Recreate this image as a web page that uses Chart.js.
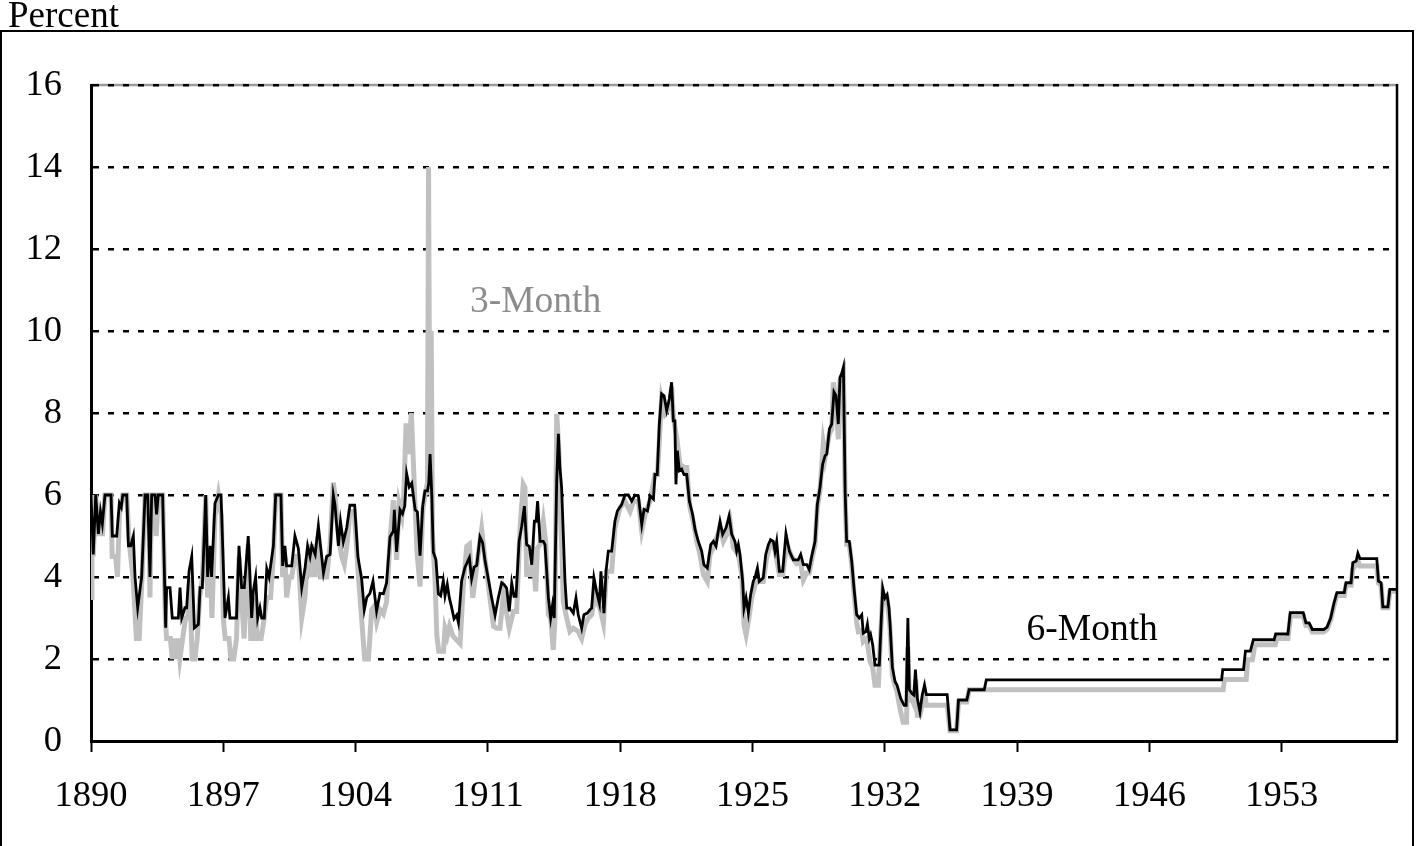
<!DOCTYPE html>
<html>
<head>
<meta charset="utf-8">
<script src="https://cdn.jsdelivr.net/npm/chart.js@4.4.1/dist/chart.umd.min.js"></script>
<style>
  html, body { margin: 0; padding: 0; background: #ffffff; }
  #wrap { position: relative; width: 1416px; height: 846px; }
</style>
</head>
<body>
<div id="wrap"><canvas id="c" width="1416" height="846"></canvas></div>
<script>
// ---------- data ----------
const xTickYears = [1890, 1897, 1904, 1911, 1918, 1925, 1932, 1939, 1946, 1953];
const yTickValues = [0, 2, 4, 6, 8, 10, 12, 14, 16];
const axisTitle = "Percent";
const seriesNames = ["3-Month", "6-Month"];

const sixMonthYears = [
1890.00,1890.12,1890.25,1890.39,1890.50,1890.60,1890.74,1891.06,1891.13,1891.36,1891.50,1891.60,1891.68,1891.89,1891.98,
1892.10,1892.24,1892.33,1892.47,1892.68,1892.86,1893.00,1893.12,1893.21,1893.39,1893.47,1893.56,1893.79,1893.95,1894.00,
1894.18,1894.30,1894.62,1894.71,1894.80,1894.97,1895.06,1895.19,1895.33,1895.47,1895.68,1895.77,1895.89,1896.07,1896.17,
1896.30,1896.38,1896.56,1896.74,1896.88,1897.09,1897.27,1897.35,1897.70,1897.83,1897.97,1898.11,1898.32,1898.50,1898.59,
1898.71,1898.82,1898.94,1899.03,1899.17,1899.30,1899.42,1899.65,1899.77,1900.05,1900.14,1900.26,1900.35,1900.62,1900.79,
1900.97,1901.15,1901.32,1901.46,1901.59,1901.68,1901.86,1902.03,1902.30,1902.47,1902.65,1902.82,1902.91,1903.09,1903.20,
1903.35,1903.53,1903.70,1903.95,1904.12,1904.32,1904.46,1904.59,1904.76,1904.92,1905.11,1905.29,1905.47,1905.64,1905.82,
1906.00,1906.05,1906.17,1906.35,1906.48,1906.60,1906.70,1906.84,1906.97,1907.15,1907.27,1907.41,1907.55,1907.67,1907.80,
1907.87,1907.94,1908.03,1908.11,1908.25,1908.38,1908.50,1908.64,1908.73,1908.85,1908.96,1909.08,1909.21,1909.35,1909.44,
1909.61,1909.79,1910.02,1910.14,1910.27,1910.41,1910.58,1910.72,1910.84,1911.02,1911.20,1911.38,1911.55,1911.73,1911.85,
1911.99,1912.13,1912.26,1912.38,1912.49,1912.65,1912.79,1912.93,1913.05,1913.19,1913.32,1913.46,1913.55,1913.63,1913.76,
1913.93,1914.02,1914.20,1914.32,1914.42,1914.51,1914.64,1914.73,1914.81,1914.90,1915.08,1915.17,1915.34,1915.52,1915.66,
1915.78,1915.96,1916.08,1916.26,1916.40,1916.49,1916.61,1916.75,1916.90,1916.98,1917.14,1917.25,1917.37,1917.55,1917.72,
1917.85,1918.08,1918.25,1918.43,1918.61,1918.78,1918.96,1919.14,1919.26,1919.44,1919.58,1919.76,1919.84,1919.96,1920.07,
1920.19,1920.32,1920.46,1920.60,1920.72,1920.81,1920.89,1920.95,1921.02,1921.13,1921.25,1921.38,1921.52,1921.66,1921.83,
1921.96,1922.13,1922.31,1922.43,1922.61,1922.79,1922.93,1923.07,1923.19,1923.28,1923.42,1923.60,1923.76,1923.90,1924.07,
1924.16,1924.25,1924.34,1924.48,1924.55,1924.66,1924.78,1924.90,1925.04,1925.13,1925.26,1925.36,1925.57,1925.70,1925.84,
1925.96,1926.10,1926.19,1926.28,1926.42,1926.60,1926.77,1926.95,1927.16,1927.42,1927.55,1927.69,1927.87,1928.00,1928.13,
1928.31,1928.43,1928.57,1928.71,1928.84,1928.93,1929.07,1929.19,1929.31,1929.42,1929.54,1929.63,1929.72,1929.81,1929.90,
1929.98,1930.12,1930.25,1930.37,1930.51,1930.65,1930.78,1930.86,1931.00,1931.08,1931.18,1931.25,1931.36,1931.48,1931.71,
1931.80,1931.89,1932.01,1932.12,1932.22,1932.27,1932.40,1932.54,1932.65,1932.84,1933.02,1933.13,1933.22,1933.30,1933.45,
1933.54,1933.62,1933.72,1933.86,1933.98,1934.10,1934.20,1935.30,1935.45,1935.80,1935.90,1936.34,1936.46,1937.26,1937.37,
1949.82,1949.88,1950.98,1951.08,1951.34,1951.50,1952.60,1952.68,1953.33,1953.45,1954.14,1954.28,1954.45,1954.62,1955.22,
1955.40,1955.59,1955.77,1955.92,1956.31,1956.40,1956.67,1956.76,1956.94,1957.03,1957.14,1958.03,1958.12,1958.26,1958.35,
1958.62,1958.72,1959.05];
const sixMonthRates = [
6.0,4.55,6.0,5.05,5.6,5.3,6.0,6.0,5.0,5.0,5.8,5.7,6.0,6.0,4.76,
4.76,5.0,4.0,3.25,4.0,6.0,6.0,4.0,6.0,6.0,5.53,6.0,6.0,2.76,3.74,
3.74,3.0,3.0,3.74,3.0,3.25,3.25,4.15,4.5,2.76,2.84,3.74,3.74,6.0,4.0,
4.76,4.0,5.8,6.0,6.0,3.0,3.5,3.0,3.0,4.76,3.74,3.74,5.0,3.0,3.66,
4.0,3.0,3.25,3.0,3.0,4.2,4.0,4.76,6.0,6.0,4.27,4.76,4.27,4.27,5.0,
4.7,3.74,4.2,4.76,4.5,4.76,4.55,5.25,4.1,4.5,4.55,6.0,5.75,4.76,5.36,
4.85,5.2,5.75,5.75,4.5,3.95,3.2,3.5,3.6,3.9,3.17,3.6,3.59,3.86,4.98,
5.12,5.64,4.61,5.64,5.54,5.73,6.52,6.2,6.29,5.64,5.59,4.52,5.73,6.1,6.1,
6.29,7.0,6.0,4.61,4.42,3.59,3.54,3.91,3.54,3.82,3.49,3.26,2.98,3.07,2.89,
3.91,4.24,4.47,3.96,4.24,4.28,4.98,4.84,4.42,3.96,3.49,3.07,3.49,3.86,3.82,
3.73,3.16,3.85,3.53,3.53,4.87,5.24,5.73,4.79,4.75,4.3,5.36,5.36,5.85,4.87,
4.87,4.79,3.49,3.0,3.32,3.0,6.34,7.49,6.67,6.18,3.89,3.24,3.24,3.12,3.49,
3.08,2.75,3.08,3.12,3.2,3.24,3.98,3.65,3.36,4.14,3.12,4.14,4.63,4.63,5.36,
5.61,5.77,6.0,6.0,5.85,6.0,5.98,5.28,5.65,5.61,5.98,5.9,6.5,6.5,7.73,
8.47,8.42,8.06,8.34,8.75,7.81,7.81,6.26,7.08,6.59,6.63,6.5,6.5,5.85,5.53,
5.16,4.87,4.63,4.3,4.22,4.79,4.87,4.75,5.12,5.36,5.04,5.2,5.49,5.04,4.87,
4.63,4.79,4.55,3.89,3.24,3.49,3.12,3.57,3.89,3.98,4.22,3.89,3.98,4.55,4.79,
4.91,4.87,4.63,4.87,4.14,4.14,5.06,4.63,4.42,4.42,4.55,4.3,4.3,4.18,4.5,
4.87,5.77,6.18,6.75,6.96,7.0,7.61,7.73,8.51,8.42,7.73,8.87,8.96,9.12,6.1,
4.87,4.87,4.38,3.73,3.08,3.0,3.08,2.63,2.67,2.85,2.5,2.59,2.34,1.85,1.85,
2.83,3.73,3.49,3.57,3.25,2.91,1.8,1.45,1.36,1.04,0.87,0.87,3.0,1.25,1.15,
1.12,1.74,1.04,0.71,1.12,1.36,1.13,1.13,0.27,0.27,1.0,1.0,1.25,1.25,1.49,
1.49,1.74,1.74,2.19,2.19,2.47,2.47,2.61,2.61,3.13,3.13,2.88,2.88,2.72,2.72,
2.78,3.0,3.37,3.62,3.62,3.86,3.86,4.35,4.39,4.58,4.45,4.45,3.9,3.86,3.27,
3.27,3.7,3.7];

const threeMonthYears = [
1890.00,1890.05,1890.12,1890.25,1890.39,1890.50,1890.60,1890.74,1891.06,1891.12,1891.30,1891.40,1891.50,1891.68,1891.89,
1892.00,1892.10,1892.22,1892.32,1892.40,1892.55,1892.70,1892.86,1893.05,1893.12,1893.20,1893.38,1893.45,1893.56,1893.79,
1893.93,1894.00,1894.20,1894.30,1894.40,1894.50,1894.60,1894.70,1894.85,1895.00,1895.12,1895.22,1895.35,1895.50,1895.62,
1895.75,1895.90,1896.07,1896.17,1896.30,1896.40,1896.56,1896.74,1896.90,1897.00,1897.10,1897.30,1897.40,1897.55,1897.70,
1897.83,1897.97,1898.10,1898.32,1898.45,1898.60,1898.70,1898.80,1899.00,1899.17,1899.30,1899.50,1899.65,1899.77,1900.05,
1900.14,1900.26,1900.35,1900.50,1900.62,1900.79,1900.97,1901.15,1901.32,1901.46,1901.59,1901.68,1901.86,1902.00,1902.15,
1902.30,1902.47,1902.65,1902.82,1902.91,1903.09,1903.26,1903.40,1903.55,1903.70,1903.93,1904.12,1904.30,1904.48,1904.68,
1904.85,1905.00,1905.12,1905.30,1905.47,1905.64,1905.82,1906.00,1906.17,1906.30,1906.45,1906.55,1906.67,1906.80,1906.95,
1907.10,1907.25,1907.41,1907.55,1907.67,1907.80,1907.86,1907.93,1908.00,1908.07,1908.20,1908.30,1908.40,1908.65,1908.73,
1908.85,1908.97,1909.15,1909.53,1909.70,1909.88,1910.02,1910.20,1910.40,1910.67,1910.85,1911.11,1911.30,1911.47,1911.64,
1911.82,1912.13,1912.35,1912.52,1912.70,1912.87,1912.96,1913.05,1913.23,1913.40,1913.53,1913.62,1913.76,1913.93,1914.07,
1914.20,1914.32,1914.46,1914.55,1914.64,1914.73,1914.81,1914.99,1915.17,1915.34,1915.52,1915.78,1915.96,1916.14,1916.31,
1916.49,1916.67,1916.75,1916.93,1917.11,1917.28,1917.55,1917.72,1917.81,1917.99,1918.25,1918.52,1918.70,1918.96,1919.14,
1919.32,1919.58,1919.84,1919.97,1920.19,1920.37,1920.60,1920.72,1920.81,1920.99,1921.16,1921.38,1921.52,1921.69,1921.86,
1922.05,1922.22,1922.40,1922.61,1922.75,1922.93,1923.28,1923.46,1923.64,1923.81,1923.99,1924.25,1924.43,1924.55,1924.66,
1924.78,1924.96,1925.13,1925.31,1925.57,1925.75,1925.96,1926.19,1926.42,1926.60,1926.81,1927.07,1927.34,1927.55,1927.69,
1927.87,1928.00,1928.13,1928.31,1928.43,1928.57,1928.74,1928.84,1929.07,1929.19,1929.28,1929.42,1929.54,1929.63,1929.72,
1929.81,1929.90,1929.98,1930.12,1930.25,1930.37,1930.51,1930.60,1930.78,1930.86,1931.05,1931.22,1931.36,1931.48,1931.66,
1931.75,1931.89,1932.01,1932.12,1932.27,1932.40,1932.54,1932.65,1932.80,1932.97,1933.15,1933.22,1933.30,1933.45,1933.54,
1933.64,1933.72,1933.86,1933.98,1934.10,1934.20,1935.30,1935.45,1935.80,1935.90,1936.34,1936.46,1949.90,1949.98,1951.12,
1951.20,1951.45,1951.58,1952.66,1952.74,1953.33,1953.47,1954.14,1954.28,1954.45,1954.62,1955.22,1955.40,1955.59,1955.77,
1955.92,1956.31,1956.40,1956.67,1956.76,1956.94,1957.03,1957.14,1958.03,1958.12,1958.26,1958.35,1958.62,1958.72,1959.05];
const threeMonthRates = [
3.5,6.0,4.5,6.0,5.0,5.5,5.0,6.0,6.0,4.5,4.5,4.0,5.5,6.0,6.0,
5.0,4.5,4.0,3.2,2.5,2.5,4.0,6.0,6.0,3.5,6.0,6.0,5.0,6.0,6.0,
3.0,2.5,2.5,2.0,2.5,2.0,2.5,2.0,2.5,3.0,3.0,4.0,2.0,2.0,2.5,
3.5,4.0,6.0,3.5,4.5,3.0,5.5,6.0,5.5,3.0,2.5,2.5,2.0,2.0,2.5,
4.5,3.5,2.5,4.8,2.5,2.5,3.5,2.5,2.5,3.0,3.5,3.5,4.5,6.0,6.0,
4.0,4.5,3.5,4.0,4.0,4.5,4.5,3.0,3.5,4.5,4.0,4.8,4.0,5.0,4.0,
4.0,4.0,4.8,6.3,6.0,5.0,4.5,4.3,4.8,5.6,5.6,4.2,3.1,2.0,2.0,
3.2,3.3,2.9,3.2,3.1,3.4,4.9,5.87,4.42,5.8,5.5,6.0,7.75,7.0,8.0,
6.29,4.6,3.77,5.6,6.0,6.3,14.0,6.0,10.0,5.0,3.96,2.56,2.19,2.19,2.75,
2.56,2.8,2.56,2.37,3.8,4.75,4.8,3.49,4.24,5.17,4.42,3.49,2.8,2.75,2.75,
3.57,2.75,3.16,3.16,5.2,6.26,6.18,4.06,4.06,4.47,3.65,4.7,4.8,5.36,4.8,
3.08,3.0,2.22,3.0,7.98,7.3,6.3,3.4,3.0,2.67,2.75,2.67,2.5,2.85,3.0,
3.08,3.57,3.4,3.24,2.87,4.14,4.14,5.2,5.36,5.69,5.85,5.6,5.85,5.85,5.12,
5.53,5.85,6.5,6.5,8.34,7.98,8.14,8.64,7.9,7.4,6.75,6.67,6.67,5.69,5.36,
4.87,4.55,4.06,3.89,4.55,4.71,5.2,4.87,5.04,5.36,4.71,4.55,4.06,2.83,2.59,
2.91,3.49,3.81,3.89,3.89,4.47,4.83,4.67,4.06,4.06,4.8,4.5,4.32,4.35,3.93,
4.1,4.1,4.4,4.8,5.7,6.1,7.24,6.9,7.5,7.6,8.75,8.3,7.36,8.8,8.9,
9.0,6.0,4.8,4.8,4.3,3.6,2.9,2.67,2.7,2.42,2.5,1.93,1.8,1.36,1.36,
2.3,3.6,3.4,3.45,2.8,1.6,1.35,1.2,0.79,0.46,0.46,2.3,1.0,1.0,0.9,
1.5,0.63,0.63,0.9,1.2,0.87,0.87,0.25,0.25,0.95,0.95,1.25,1.25,1.5,1.5,
1.98,1.98,2.35,2.35,2.5,2.5,3.05,3.05,2.82,2.82,2.66,2.66,2.72,2.95,3.3,
3.55,3.55,3.8,3.8,4.2,4.3,4.4,4.27,4.27,3.85,3.8,3.25,3.25,3.65,3.65];

// label anchors (data coordinates) for the in-chart series names
const labelYears = [1910.05, 1939.5];
const labelRates = [10.7, 2.7];

// ---------- chart ----------
const SERIF = '"Liberation Serif", "Times New Roman", serif';
const toPoints = (xs, ys) => xs.map((x, i) => ({ x: x, y: ys[i] }));

const framePlugin = {
  id: 'frame',
  beforeDraw(chart) {
    const ctx = chart.ctx, a = chart.chartArea;
    ctx.save();
    ctx.fillStyle = '#ffffff';
    ctx.fillRect(0, 0, chart.width, chart.height);
    // outer frame
    ctx.strokeStyle = '#000';
    ctx.lineWidth = 2;
    ctx.beginPath();
    ctx.moveTo(1, 860); ctx.lineTo(1, 31); ctx.lineTo(1413, 31); ctx.lineTo(1413, 860);
    ctx.stroke();
    // axis title
    ctx.fillStyle = '#000';
    ctx.font = '37px ' + SERIF;
    ctx.textBaseline = 'alphabetic';
    ctx.textAlign = 'left';
    ctx.fillText(axisTitle, 8, 27);
    // grey top border of plot area
    ctx.strokeStyle = '#9a9a9a';
    ctx.lineWidth = 2.5;
    ctx.beginPath();
    ctx.moveTo(a.left, a.top); ctx.lineTo(a.right, a.top);
    ctx.stroke();
    ctx.restore();
  },
  afterDatasetsDraw(chart) {
    const ctx = chart.ctx, a = chart.chartArea;
    const xs = chart.scales.x, ys = chart.scales.y;
    ctx.save();
    // right border
    ctx.strokeStyle = '#000';
    ctx.lineWidth = 2.5;
    ctx.beginPath();
    ctx.moveTo(a.right, a.top - 1); ctx.lineTo(a.right, a.bottom);
    ctx.stroke();
    // series labels
    ctx.font = '37.5px ' + SERIF;
    ctx.textAlign = 'left';
    ctx.textBaseline = 'middle';
    const colors = ['#8c8c8c', '#000000'];
    seriesNames.forEach((name, i) => {
      ctx.fillStyle = colors[i];
      ctx.fillText(name, xs.getPixelForValue(labelYears[i]), ys.getPixelForValue(labelRates[i]));
    });
    ctx.restore();
  }
};

new Chart(document.getElementById('c'), {
  type: 'line',
  data: {
    datasets: [
      {
        label: seriesNames[1],
        data: toPoints(sixMonthYears, sixMonthRates),
        borderColor: '#000000',
        borderWidth: 2.8,
        pointRadius: 0,
        tension: 0,
        fill: false,
        order: 1
      },
      {
        label: seriesNames[0],
        data: toPoints(threeMonthYears, threeMonthRates),
        borderColor: '#c0c0c0',
        borderWidth: 5,
        pointRadius: 0,
        tension: 0,
        fill: false,
        order: 2
      }
    ]
  },
  options: {
    responsive: false,
    devicePixelRatio: 1,
    animation: false,
    layout: { padding: { left: 0, top: 85, right: 19, bottom: 0 } },
    plugins: { legend: { display: false }, tooltip: { enabled: false }, title: { display: false } },
    scales: {
      x: {
        type: 'linear',
        min: 1890,
        max: 1959.1,
        afterBuildTicks: s => { s.ticks = xTickYears.map(v => ({ value: v })); },
        afterFit: s => { s.height = 105; },
        grid: { display: true, drawOnChartArea: false, drawTicks: true, tickLength: 11, tickWidth: 2, tickColor: '#000' },
        border: { display: true, color: '#000', width: 3 },
        ticks: {
          padding: 23, color: '#000', autoSkip: false, maxRotation: 0,
          font: { family: SERIF, size: 36.5 },
          callback: v => String(v)
        }
      },
      y: {
        type: 'linear',
        min: 0,
        max: 16,
        afterBuildTicks: s => { s.ticks = yTickValues.map(v => ({ value: v })); },
        afterFit: s => { s.width = 91; },
        grid: { display: true, color: '#000', lineWidth: 2.5, drawTicks: false },
        border: { display: true, color: '#000', width: 3, dash: [6, 9] },
        ticks: {
          padding: 29, color: '#000',
          font: { family: SERIF, size: 36.5 },
          callback: v => String(v)
        }
      }
    }
  },
  plugins: [framePlugin]
});
</script>
</body>
</html>
